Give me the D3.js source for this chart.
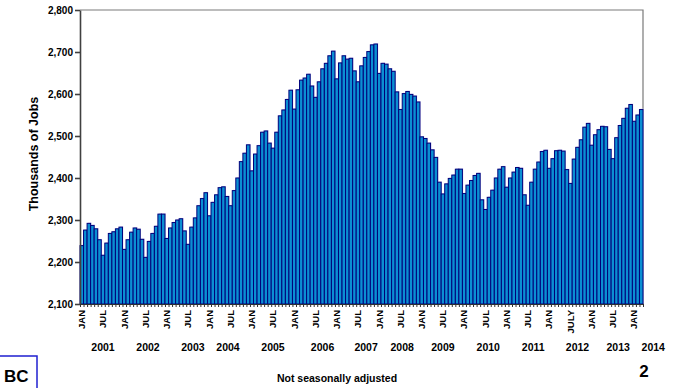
<!DOCTYPE html>
<html>
<head>
<meta charset="utf-8">
<title>Thousands of Jobs</title>
<script src="https://d3js.org/d3.v7.min.js"></script>
<style>
body {
	margin: 0;
	background-color: white;
	font-family: "Liberation Sans", Arial, sans-serif;
}
svg text {
	font-weight: bold;
	fill: black;
}
.bar {
	fill: #0b8fd2;
	stroke: #00007a;
	stroke-width: 1;
}
.yaxis path, .yaxis line {
	stroke: #404040;
	stroke-width: 1.6;
}
.xaxis path, .xaxis line {
	stroke: #303030;
}
</style>
<script>
/* globals d3, window */
(function() {
"use strict";

// monthly jobs, Jan 2001 .. Mar 2014 (thousands)
const jobs = [
	2239, 2276, 2292, 2287, 2279, 2253, 2216, 2245, 2268, 2272, 2279, 2283,
	2230, 2253, 2271, 2281, 2278, 2254, 2211, 2249, 2268, 2285, 2314, 2314,
	2256, 2281, 2294, 2300, 2303, 2274, 2242, 2283, 2305, 2334, 2351, 2365,
	2310, 2342, 2360, 2377, 2379, 2356, 2334, 2370, 2400, 2439, 2459, 2479,
	2417, 2457, 2477, 2509, 2512, 2483, 2471, 2509, 2548, 2562, 2587, 2609,
	2564, 2610, 2633, 2638, 2647, 2619, 2592, 2629, 2660, 2673, 2691, 2702,
	2636, 2674, 2691, 2683, 2685, 2655, 2629, 2667, 2687, 2701, 2717, 2719,
	2649, 2673, 2671, 2660, 2654, 2605, 2563, 2601, 2606, 2599, 2595, 2581,
	2498, 2494, 2483, 2467, 2449, 2390, 2362, 2386, 2399, 2407, 2421, 2421,
	2363, 2383, 2394, 2406, 2411, 2348, 2325, 2354, 2371, 2400, 2421, 2427,
	2378, 2400, 2414, 2425, 2423, 2360, 2335, 2390, 2421, 2438, 2463, 2466,
	2423, 2446, 2465, 2466, 2464, 2420, 2387, 2445, 2473, 2491, 2521, 2530,
	2478, 2503, 2515, 2523, 2522, 2468, 2446, 2496, 2525, 2542, 2566, 2575,
	2535, 2550, 2563
];

// a label every six months, starting at Jan 2001
const monthLabels = [
	"JAN", "JUL", "JAN", "JUL", "JAN", "JUL", "JAN", "JUL", "JAN", "JUL",
	"JAN", "JUL", "JAN", "JUL", "JAN", "JUL", "JAN", "JUL", "JAN", "JUL",
	"JAN", "JUL", "JAN", "JULY", "JAN", "JUL", "JAN"
];

const years = ["2001", "2002", "2003", "2004", "2005", "2006", "2007",
	"2008", "2009", "2010", "2011", "2012", "2013", "2014"];
// month index (from Jan 2001) under which each year label sits
const yearAt = [6, 18.7, 31.4, 41.3, 54, 68, 80.3, 90.5, 102, 114.8, 127.5, 140, 151.5, 161.4];

const yTicks = [2100, 2200, 2300, 2400, 2500, 2600, 2700, 2800];

function main()
{
	const width = 676, height = 388;
	const plot = {left: 80, right: 643, top: 10, bottom: 304};

	const svg = d3.select("body").append("svg")
		.attr("width", width)
		.attr("height", height);

	const x = d3.scaleBand(d3.range(jobs.length), [plot.left, plot.right]).padding(0);
	const xm = d3.scaleLinear([0, jobs.length], [plot.left, plot.right]);
	const y = d3.scaleLinear([2100, 2800], [plot.bottom, plot.top]);

	// frame top / right
	svg.append("path")
		.attr("d", `M${plot.left},${plot.top}H${plot.right}V${plot.bottom}`)
		.attr("fill", "none")
		.attr("stroke", "#7a7a7a")
		.attr("stroke-width", 1.2);

	// bar shadow
	svg.append("g")
		.selectAll("rect")
		.data(jobs)
		.join("rect")
			.attr("x", (d, i) => x(i) + 0.8)
			.attr("y", d => y(d) - 0.8)
			.attr("width", x.bandwidth())
			.attr("height", d => plot.bottom - y(d))
			.attr("fill", "#cfc8ec");

	svg.append("g")
		.selectAll(".bar")
		.data(jobs)
		.join("rect")
			.attr("class", "bar")
			.attr("x", (d, i) => x(i))
			.attr("y", d => y(d))
			.attr("width", x.bandwidth())
			.attr("height", d => plot.bottom - y(d));

	const yAxis = d3.axisLeft(y)
		.tickValues(yTicks)
		.tickFormat(d3.format(","))
		.tickSizeInner(5)
		.tickSizeOuter(0);
	const gY = svg.append("g")
		.attr("class", "yaxis")
		.attr("transform", `translate(${plot.left},0)`)
		.call(yAxis);
	gY.selectAll("text")
		.attr("font-size", 10)
		.attr("font-family", "Liberation Sans, Arial, sans-serif")
		.attr("x", -7);

	// month ticks along the bottom
	const xAxis = d3.axisBottom(xm)
		.tickValues(d3.range(0, jobs.length + 1))
		.tickFormat("")
		.tickSizeInner(3)
		.tickSizeOuter(0);
	svg.append("g")
		.attr("class", "xaxis")
		.attr("transform", `translate(0,${plot.bottom})`)
		.call(xAxis);

	svg.append("g")
		.selectAll("text")
		.data(monthLabels)
		.join("text")
			.attr("transform", (d, i) => `translate(${x(i * 6) + x.bandwidth() / 2 + 3.3},310) rotate(-90)`)
			.attr("text-anchor", "end")
			.attr("font-size", 9.5)
			.text(d => d);

	svg.append("g")
		.selectAll("text")
		.data(years)
		.join("text")
			.attr("x", (d, i) => xm(yearAt[i] + 0.5))
			.attr("y", 351)
			.attr("text-anchor", "middle")
			.attr("font-size", 10.5)
			.text(d => d);

	svg.append("text")
		.attr("transform", "translate(38,154) rotate(-90)")
		.attr("text-anchor", "middle")
		.attr("font-size", 12.5)
		.text("Thousands of Jobs");

	svg.append("text")
		.attr("x", 337)
		.attr("y", 382)
		.attr("text-anchor", "middle")
		.attr("font-size", 10.5)
		.text("Not seasonally adjusted");

	svg.append("text")
		.attr("x", 644)
		.attr("y", 377)
		.attr("text-anchor", "middle")
		.attr("font-size", 17)
		.text("2");

	// logo fragment, bottom left
	svg.append("rect")
		.attr("x", -2)
		.attr("y", 356)
		.attr("width", 39)
		.attr("height", 40)
		.attr("fill", "white")
		.attr("stroke", "#1f1fd0")
		.attr("stroke-width", 1.5);
	svg.append("text")
		.attr("x", 4)
		.attr("y", 382)
		.attr("font-size", 17)
		.text("BC");
}
window.addEventListener("DOMContentLoaded", main);
})();
</script>
</head>
<body>
</body>
</html>
